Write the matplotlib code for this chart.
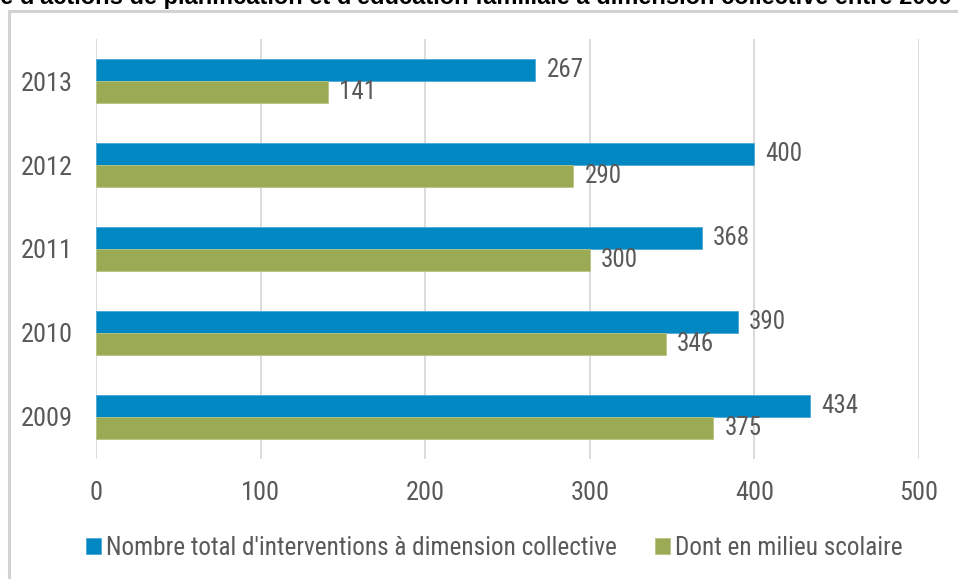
import matplotlib
matplotlib.use("Agg")
import matplotlib.pyplot as plt
from matplotlib.patches import Rectangle
import numpy as np

plt.rcParams['font.family'] = ['Roboto Condensed', 'Liberation Sans', 'DejaVu Sans']

years = ['2009', '2010', '2011', '2012', '2013']
total = [434, 390, 368, 400, 267]
scolaire = [375, 346, 300, 290, 141]
xticks = [0, 100, 200, 300, 400, 500]

label_total = "Nombre total d'interventions à dimension collective"
label_scol = "Dont en milieu scolaire"
title = ("Nombre d'actions de planification et d'éducation familiale "
         "à dimension collective entre 2009 et 2013")

blue = '#0187c1'
green = '#9baa55'
grey = '#595959'
grid = '#d9d9d9'

fig = plt.figure(figsize=(9.58, 5.79), dpi=100)
ax = fig.add_axes([0.1002, 0.2073, 0.8591, 0.7253])

# outer frame of the chart block
fig.patches.append(Rectangle((9 / 958, -0.05), 1.2, 1 - 11 / 579 + 0.05,
                             transform=fig.transFigure, fill=False,
                             edgecolor='#d2d2d2', linewidth=2.2, zorder=0))

pos = np.arange(len(years))
h = 0.258
b1 = ax.barh(pos + h / 2, total, height=h, color=blue,
             edgecolor='#4fa8d6', linewidth=0.6, label=label_total, zorder=3)
b2 = ax.barh(pos - h / 2, scolaire, height=h, color=green,
             edgecolor='#b9c482', linewidth=0.6, label=label_scol, zorder=3)

for bars, vals in ((b1, total), (b2, scolaire)):
    for bar, v in zip(bars, vals):
        ax.annotate(str(v), (v, bar.get_y() + bar.get_height() / 2),
                    xytext=(8, 0), textcoords='offset points',
                    ha='left', va='center', fontsize=18, color=grey, zorder=4)

ax.set_xlim(0, 500)
ax.set_ylim(-0.5, len(years) - 0.5)
ax.set_xticks(xticks)
ax.set_yticks(pos)
ax.set_yticklabels(years)
ax.tick_params(axis='both', length=0, labelsize=19, labelcolor=grey)
ax.tick_params(axis='x', pad=16)
ax.tick_params(axis='y', pad=17)
ax.xaxis.grid(True, color=grid, linewidth=1.3, zorder=0)
ax.set_axisbelow(True)
for s in ax.spines.values():
    s.set_visible(False)

leg = fig.legend(handles=[b1, b2], loc='center', bbox_to_anchor=(0.516, 0.0535),
                 ncol=2, frameon=False, fontsize=18.2, labelcolor=grey,
                 handlelength=0.6, handleheight=0.6, handletextpad=0.2,
                 columnspacing=1.5)

# title line sits partly above the top edge
tfont = dict(fontsize=17.0, fontweight='bold', family=['Liberation Sans', 'DejaVu Sans'])
t = fig.text(0, 1 - 4 / 579, title, ha='left', va='baseline', color='black', **tfont)
fig.canvas.draw()
r = fig.canvas.get_renderer()
pre = fig.text(0, 0, "Nombr", **tfont)
w = pre.get_window_extent(r).width
pre.remove()
t.set_x(-w / fig.bbox.width)

fig.savefig('out.png', dpi=100)
